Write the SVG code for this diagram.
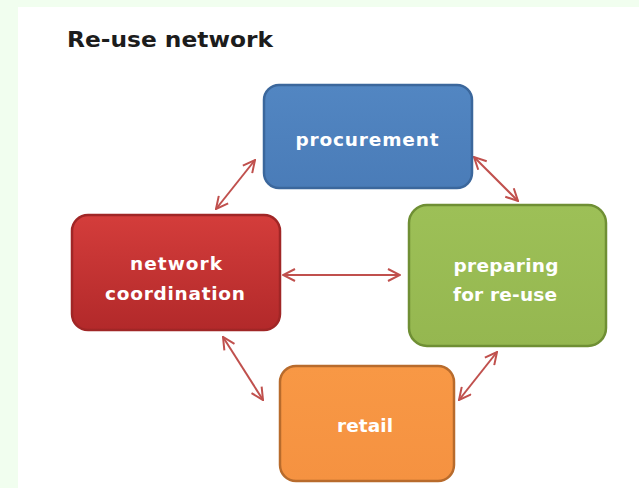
<svg xmlns="http://www.w3.org/2000/svg" width="639" height="488" viewBox="0 0 639 488">
  <style>
    .title { font-family: "DejaVu Sans", "Liberation Sans", sans-serif; font-weight: 700; font-size: 21px; fill: #1c1c1c; }
    .label { font-family: "DejaVu Sans", "Liberation Sans", sans-serif; font-weight: 700; font-size: 18.5px; fill: #ffffff; text-anchor: middle; }
    .link { stroke: #c0504d; stroke-width: 2; fill: none; marker-start: url(#head); marker-end: url(#head); }
    .box { stroke-width: 2.5; }
  </style>
  <defs>
    <marker id="head" viewBox="0 0 14 14" refX="13" refY="7" markerWidth="14" markerHeight="14" markerUnits="userSpaceOnUse" orient="auto-start-reverse">
      <path d="M1,1 L13,7 L1,13" fill="none" stroke="#c0504d" stroke-width="2" stroke-linejoin="miter"/>
    </marker>
    <linearGradient id="gBlue" x1="0" y1="0" x2="0" y2="1">
      <stop offset="0" stop-color="#5286c2"/>
      <stop offset="1" stop-color="#4a7cb8"/>
    </linearGradient>
    <linearGradient id="gRed" x1="0" y1="0" x2="0" y2="1">
      <stop offset="0" stop-color="#d43d3b"/>
      <stop offset="1" stop-color="#b2292a"/>
    </linearGradient>
    <linearGradient id="gGreen" x1="0" y1="0" x2="0" y2="1">
      <stop offset="0" stop-color="#9dc057"/>
      <stop offset="1" stop-color="#95b750"/>
    </linearGradient>
    <linearGradient id="gOrange" x1="0" y1="0" x2="0" y2="1">
      <stop offset="0" stop-color="#f89845"/>
      <stop offset="1" stop-color="#f59241"/>
    </linearGradient>
  </defs>

  <!-- page background and panel -->
  <rect x="0" y="0" width="639" height="488" fill="#f1feef"/>
  <rect x="18" y="7" width="621" height="481" fill="#ffffff"/>

  <text class="title" x="67" y="47" textLength="206" lengthAdjust="spacingAndGlyphs">Re-use network</text>

  <!-- connectors -->
  <g id="connectors">
    <line class="link" x1="255" y1="160" x2="216" y2="209"/>
    <line class="link" x1="474" y1="157" x2="518" y2="201"/>
    <line class="link" x1="283" y1="275" x2="400" y2="275"/>
    <line class="link" x1="223" y1="337" x2="263" y2="400"/>
    <line class="link" x1="497" y1="352" x2="459" y2="400"/>
  </g>

  <g id="procurement">
    <rect class="box" x="264" y="85" width="208" height="103" rx="15" fill="url(#gBlue)" stroke="#3b679c"/>
    <text class="label" x="367" y="146" textLength="143" lengthAdjust="spacing">procurement</text>
  </g>

  <g id="network-coordination">
    <rect class="box" x="72" y="215" width="208" height="115" rx="16" fill="url(#gRed)" stroke="#a02626"/>
    <text class="label" x="176" y="270" textLength="92" lengthAdjust="spacing">network</text>
    <text class="label" x="175" y="300" textLength="140" lengthAdjust="spacing">coordination</text>
  </g>

  <g id="preparing-for-re-use">
    <rect class="box" x="409" y="205" width="197" height="141" rx="18" fill="url(#gGreen)" stroke="#6f8f34"/>
    <text class="label" x="506" y="272" textLength="105" lengthAdjust="spacing">preparing</text>
    <text class="label" x="505" y="301" textLength="104" lengthAdjust="spacing">for re-use</text>
  </g>

  <g id="retail">
    <rect class="box" x="280" y="366" width="174" height="115" rx="16" fill="url(#gOrange)" stroke="#b86b2c"/>
    <text class="label" x="365" y="432" textLength="56" lengthAdjust="spacing">retail</text>
  </g>
</svg>
